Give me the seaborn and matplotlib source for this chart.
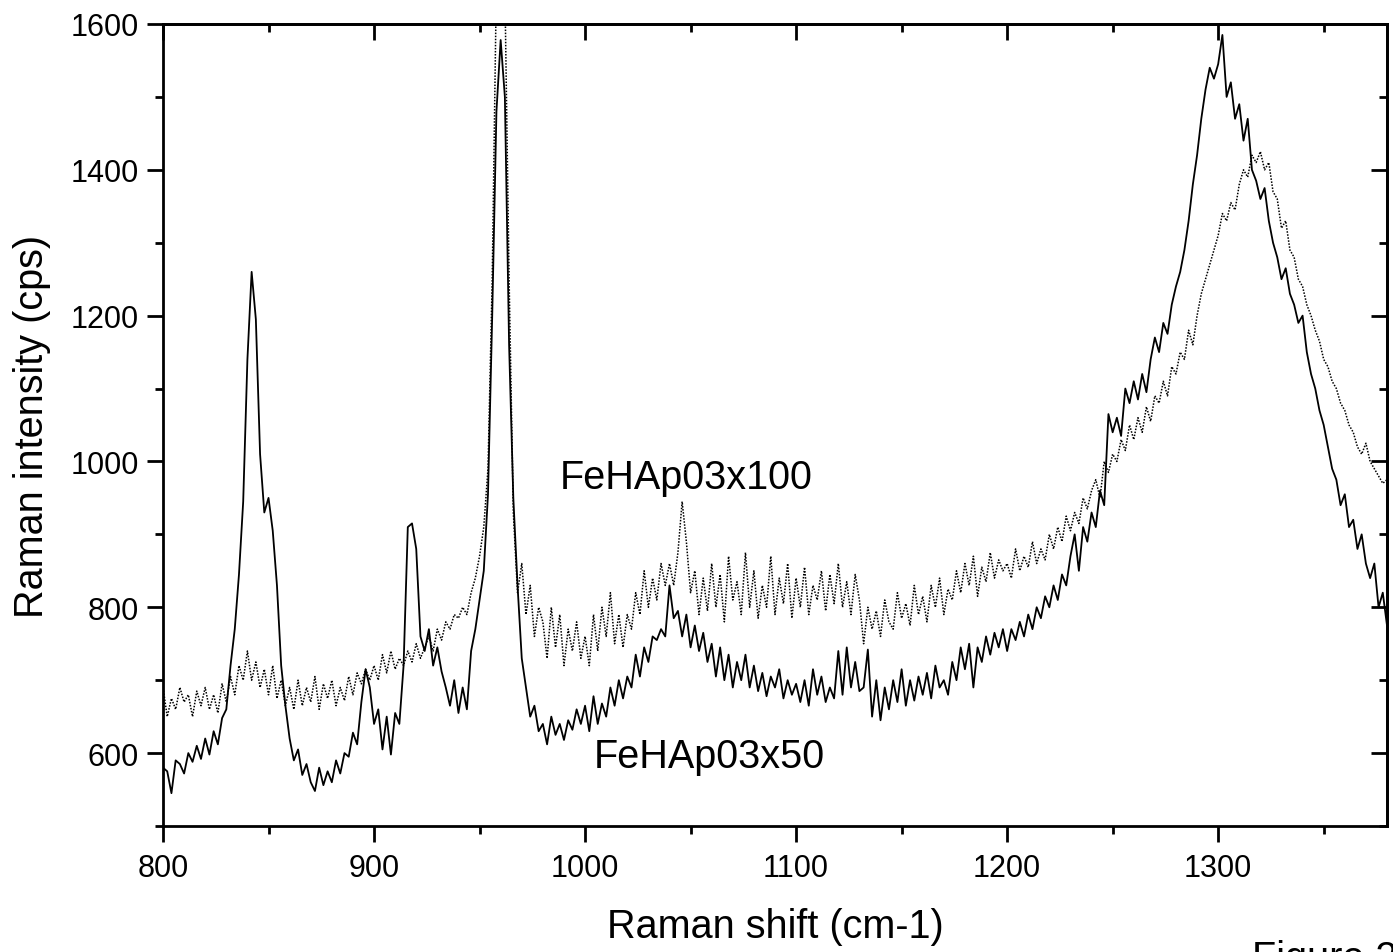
import numpy as np
import pandas as pd
import matplotlib
matplotlib.use("Agg")
import matplotlib.pyplot as plt
import seaborn as sns
from matplotlib.ticker import MultipleLocator

# Raman shift grid (cm-1), 2 cm-1 steps from 800 to 1380
shift = np.arange(800, 1381, 2)

# FeHAp03x50 (solid)
x50 = [
    580, 575, 545, 590, 585, 572, 600, 588, 610, 592,
    620, 598, 630, 612, 648, 660, 720, 770, 845, 945,
    1140, 1260, 1195, 1010, 930, 950, 905, 830, 720, 665,
    620, 590, 605, 570, 585, 560, 548, 580, 556, 575,
    560, 590, 572, 600, 595, 628, 612, 670, 715, 690,
    640, 660, 605, 650, 598, 655, 640, 720, 910, 915,
    880, 760, 740, 770, 720, 745, 712, 690, 665, 700,
    655, 690, 660, 740, 770, 810, 850, 955, 1200, 1480,
    1578, 1500, 1160, 950, 830, 730, 690, 650, 665, 630,
    640, 612, 650, 625, 640, 618, 645, 632, 660, 640,
    665, 630, 678, 640, 668, 650, 690, 665, 700, 675,
    705, 690, 735, 705, 745, 725, 760, 755, 770, 760,
    830, 785, 795, 760, 790, 745, 775, 740, 765, 725,
    750, 705, 745, 700, 735, 690, 725, 700, 735, 690,
    720, 685, 710, 678, 705, 690, 715, 675, 700, 680,
    695, 670, 700, 665, 715, 680, 705, 670, 690, 675,
    740, 680, 745, 690, 725, 685, 690, 742, 650, 700,
    645, 690, 660, 700, 670, 715, 665, 700, 672, 705,
    680, 710, 675, 720, 690, 700, 680, 725, 700, 745,
    715, 750, 690, 745, 725, 760, 735, 765, 745, 770,
    740, 770, 755, 780, 760, 790, 770, 800, 785, 815,
    800, 830, 810, 845, 830, 870, 900, 850, 910, 890,
    930, 910, 960, 940, 1065, 1040, 1060, 1035, 1100, 1080,
    1110, 1085, 1120, 1095, 1140, 1170, 1150, 1190, 1175, 1215,
    1240, 1260, 1290, 1330, 1380, 1420, 1470, 1510, 1540, 1525,
    1545, 1585, 1500, 1520, 1470, 1490, 1440, 1470, 1400, 1385,
    1360, 1375, 1330, 1300, 1280, 1250, 1265, 1230, 1215, 1190,
    1200, 1150, 1120, 1100, 1070, 1050, 1020, 990, 975, 940,
    955, 910, 920, 880, 900, 860, 840, 860, 800, 820,
    775,
]

# FeHAp03x100 (dotted)
x100 = [
    690, 650, 675, 660, 690, 670, 680, 650, 685, 665,
    690, 660, 680, 655, 695, 670, 705, 680, 720, 700,
    740, 700, 725, 690, 715, 680, 720, 675, 700, 665,
    690, 660, 700, 665, 690, 670, 705, 660, 695, 675,
    700, 665, 690, 672, 705, 680, 710, 695, 715, 700,
    720, 700, 735, 710, 740, 715, 730, 720, 740, 725,
    750, 730, 745, 760, 740, 770, 755, 780, 770, 790,
    785, 800, 790, 820, 840, 870, 910, 990, 1250, 1660,
    2300, 1650, 1250, 930, 820, 860, 790, 830, 760, 800,
    780, 730, 800, 745, 790, 720, 770, 740, 780, 730,
    760, 720, 790, 740, 800, 760, 820, 750, 790, 745,
    790, 770, 820, 790, 850, 800, 840, 810, 860, 830,
    860, 830, 875, 945, 890, 820, 850, 790, 840, 795,
    860, 800, 845, 780, 870, 810, 835, 790, 875, 800,
    850, 785, 830, 800, 870, 790, 840, 805, 860, 785,
    840, 800, 855, 790, 830, 810, 850, 795, 845, 805,
    860, 800, 835, 790, 845, 810, 750, 800, 770, 795,
    760, 810, 780, 770, 820, 785, 805, 775, 830, 790,
    815, 780, 830, 800, 840, 790, 825, 810, 850, 820,
    860, 830, 870, 815, 855, 835, 875, 840, 865, 850,
    860, 840, 880, 850, 870, 855, 890, 860, 880, 865,
    900, 880, 910, 890, 925, 905, 930, 915, 950, 935,
    960, 975, 950, 1000, 985, 1010, 1000, 1030, 1015, 1050,
    1030, 1060, 1040, 1075, 1055, 1090, 1080, 1110, 1090, 1130,
    1120, 1150, 1140, 1180, 1160, 1200, 1230, 1250, 1270, 1290,
    1310, 1340, 1330, 1355, 1345, 1380, 1400, 1390, 1420, 1410,
    1425, 1400, 1410, 1370, 1360, 1320, 1330, 1290, 1280, 1250,
    1240, 1215, 1200, 1180, 1165, 1140, 1130, 1110, 1100, 1080,
    1070, 1050, 1040, 1020, 1010, 1025, 1000, 990, 980, 970,
    975,
]

label_x50 = "FeHAp03x50"
label_x100 = "FeHAp03x100"
x_ticks = [800, 900, 1000, 1100, 1200, 1300]
y_ticks = [600, 800, 1000, 1200, 1400, 1600]

sns.set_theme(style="ticks")
plt.rcParams["font.family"] = ["Liberation Sans", "DejaVu Sans"]
plt.rcParams["text.color"] = "black"
plt.rcParams["axes.labelcolor"] = "black"

df = pd.DataFrame({"shift": shift, "x50": x50, "x100": x100})

fig = plt.figure(figsize=(13.93, 9.53), dpi=100)
ax = fig.add_axes([163 / 1393, 1 - 827 / 953, (1387 - 163) / 1393, (827 - 25) / 953])

sns.lineplot(data=df, x="shift", y="x100", ax=ax, color="black",
             linewidth=1.1, linestyle=(0, (1, 1)), estimator=None)
sns.lineplot(data=df, x="shift", y="x50", ax=ax, color="black",
             linewidth=1.3, estimator=None)

ax.set_xlim(800, 1380)
ax.set_ylim(500, 1600)
ax.set_xticks(x_ticks)
ax.set_yticks(y_ticks)
ax.xaxis.set_minor_locator(MultipleLocator(50))
ax.yaxis.set_minor_locator(MultipleLocator(100))

tick_fs = 22
lab_fs = 28.5
ax.tick_params(which="major", direction="out", length=11.5, width=2,
               labelsize=tick_fs, colors="black", pad=6)
ax.tick_params(which="minor", direction="out", length=5.8, width=2, colors="black")
ax.tick_params(axis="x", pad=8)
for sp in ax.spines.values():
    sp.set_visible(True)
    sp.set_linewidth(2)
    sp.set_color("black")

# top / right inward ticks
top = ax.secondary_xaxis("top")
top.set_xticks(x_ticks)
top.xaxis.set_minor_locator(MultipleLocator(50))
top.tick_params(which="major", direction="in", length=11.5, width=2, labeltop=False, colors="black")
top.tick_params(which="minor", direction="in", length=5.8, width=2, colors="black")
top.spines["top"].set_linewidth(2)
top.spines["top"].set_color("black")
right = ax.secondary_yaxis("right")
right.set_yticks(y_ticks)
right.yaxis.set_minor_locator(MultipleLocator(100))
right.tick_params(which="major", direction="in", length=11.5, width=2, labelright=False, colors="black")
right.tick_params(which="minor", direction="in", length=5.8, width=2, colors="black")
right.spines["right"].set_linewidth(2)
right.spines["right"].set_color("black")

ax.set_xlabel("Raman shift (cm-1)", fontsize=lab_fs, labelpad=17, color="black")
ax.set_ylabel("Raman intensity (cps)", fontsize=lab_fs, labelpad=14, color="black")

ax.text(988, 964, label_x100, fontsize=lab_fs, ha="left", va="baseline", color="black")
ax.text(1004, 581, label_x50, fontsize=lab_fs, ha="left", va="baseline", color="black")

fig.text(1252 / 1393, 1 - 940 / 953, "Figure 2", fontsize=lab_fs, ha="left", va="top", color="black")

fig.savefig("out.png", dpi=100)
